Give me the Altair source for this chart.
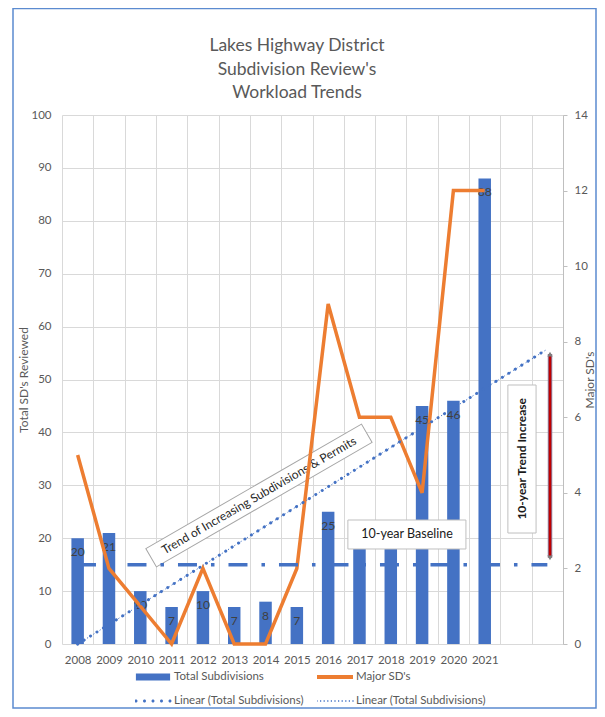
import altair as alt
import pandas as pd

# ---------------- data ----------------
years = list(range(2008, 2022))
total_subdivisions = [20, 21, 10, 7, 10, 7, 8, 7, 25, 22, 22, 45, 46, 88]
major_sds = [5, 2, 1, 0, 2, 0, 0, 2, 9, 6, 6, 4, 12, 12]

left_ticks = list(range(0, 101, 10))
right_ticks = list(range(0, 15, 2))
x_edges = [y - 0.5 for y in range(2008, 2025)]

title_lines = ["Lakes Highway District", "Subdivision Review's", "Workload Trends"]
legend_names = ["Total Subdivisions", "Major SD's",
                "Linear (Total Subdivisions)", "Linear (Total Subdivisions) "]
trend_extent = [2008, 2023]

# annotations (in data units)
baseline_value = [15]
baseline_span = [2008.17, 2023.0]
arrow_x = [2023.085]
arrow_span = [16.3, 54.8]
box_x = [2016.63, 2021.74]
box_x2 = [2020.40, 2022.64]
box_y = [23.44, 48.96]
box_y2 = [17.96, 20.98]
baseline_label = ["10-year Baseline"]
baseline_label_pos = [2018.52, 20.7]
increase_label = ["10-year Trend Increase"]
increase_label_pos = [2022.19, 35.0]
trend_label = ["Trend of Increasing Subdivisions & Permits"]
trend_label_pos = [2013.79, 28.07]

# ---------------- style ----------------
FONT = "Lato"
TXT = "#595959"
GRID = "#D9D9D9"
BLUE = "#4472C4"
ORANGE = "#ED7D31"
W, H = 501, 529

df = pd.DataFrame({"year": years, "total": total_subdivisions, "major": major_sds})

xscale = alt.Scale(domain=[2007.5, 2023.5], nice=False, zero=False, padding=0)
yl = alt.Scale(domain=[0, 100], nice=False)
yr = alt.Scale(domain=[0, 14], nice=False)

xaxis = alt.Axis(values=x_edges, grid=True, gridColor=GRID, ticks=False, domain=False,
                 labelExpr="datum.value <= 2020.5 ? format(datum.value + 0.5, 'd') : ''",
                 labelOffset=W / 32, labelFlush=False, labelOverlap=False, labelBound=False,
                 labelPadding=10, labelFontSize=11.5, labelColor=TXT, labelFont=FONT)
yaxis_left = alt.Axis(orient="left", values=left_ticks, grid=True, gridColor=GRID, domain=False,
                      ticks=False, labelColor=TXT, labelFont=FONT, labelFontSize=11.5,
                      labelPadding=11, title="Total SD's Reviewed", titleColor=TXT,
                      titleFont=FONT, titleFontSize=12, titleFontWeight="normal", titlePadding=0)
yaxis_right = alt.Axis(orient="right", values=right_ticks, grid=False, domain=True,
                       domainColor="#BFBFBF", ticks=True, tickColor="#BFBFBF", tickSize=4,
                       labelColor=TXT, labelFont=FONT, labelFontSize=11.5, labelPadding=7,
                       title="Major SD's", titleColor=TXT, titleFont=FONT, titleFontSize=12,
                       titleFontWeight="normal", titleAngle=270, titleBaseline="top",
                       titlePadding=-3)


def xq(field):
    # every layer carries the same x axis definition so that they merge into one axis
    return alt.X(field + ":Q", scale=xscale, axis=xaxis, title=None)


def yq(field):
    return alt.Y(field + ":Q", scale=yl, axis=None, title=None)


bars = alt.Chart(df).mark_bar(size=12.5, color=BLUE).encode(
    x=xq("year"),
    y=alt.Y("total:Q", scale=yl, axis=yaxis_left),
)
bar_labels = alt.Chart(df).mark_text(dy=14, fontSize=12, font=FONT, color="#404040").encode(
    x=xq("year"), y=yq("total"), text="total:Q"
)

rot_df = pd.DataFrame({"x": [trend_label_pos[0]], "y": [trend_label_pos[1]], "label": trend_label})
rot_box = alt.Chart(rot_df).mark_point(
    shape="M-1,-0.085L1,-0.085L1,0.085L-1,0.085Z", size=249 ** 2, angle=330,
    filled=True, fill="white", stroke="#A6A6A6", strokeWidth=1, opacity=1, fillOpacity=1
).encode(x=xq("x"), y=yq("y"))
rot_text = alt.Chart(rot_df).mark_text(angle=330, fontSize=12, font=FONT, color="#262626").encode(
    x=xq("x"), y=yq("y"), text="label:N"
)

line = alt.Chart(df).mark_line(color=ORANGE, strokeWidth=3.5).encode(
    x=xq("year"), y=alt.Y("major:Q", scale=yr, axis=yaxis_right)
)

trend1 = alt.Chart(df).transform_regression("year", "total", extent=trend_extent).mark_line(
    color=BLUE, strokeWidth=3, strokeDash=[0.1, 7.5], strokeCap="round"
).encode(x=xq("year"), y=yq("total"))
trend2 = alt.Chart(df).transform_regression("year", "total", extent=trend_extent).mark_line(
    color=BLUE, strokeWidth=1, strokeDash=[1.2, 2.5]
).encode(x=xq("year"), y=yq("total"))

base_df = pd.DataFrame({"x": [baseline_span[0]], "x2": [baseline_span[1]], "y": baseline_value})
baseline = alt.Chart(base_df).mark_rule(
    color=BLUE, strokeWidth=3.5, strokeDash=[19, 14, 3.5, 14], strokeDashOffset=6
).encode(x=xq("x"), x2="x2:Q", y=yq("y"))

box_df = pd.DataFrame({"x": box_x, "x2": box_x2, "y": box_y, "y2": box_y2})
boxes = alt.Chart(box_df).mark_rect(fill="white", stroke="#BFBFBF", strokeWidth=1).encode(
    x=xq("x"), x2="x2:Q", y=yq("y"), y2="y2:Q"
)
bl_df = pd.DataFrame({"x": [baseline_label_pos[0]], "y": [baseline_label_pos[1]], "label": baseline_label})
bl_text = alt.Chart(bl_df).mark_text(fontSize=12.5, font=FONT, color="#1a1a1a").encode(
    x=xq("x"), y=yq("y"), text="label:N"
)
inc_df = pd.DataFrame({"x": [increase_label_pos[0]], "y": [increase_label_pos[1]], "label": increase_label})
inc_text = alt.Chart(inc_df).mark_text(fontSize=12, font=FONT, fontWeight="bold", angle=270,
                                        color="#1a1a1a").encode(
    x=xq("x"), y=yq("y"), text="label:N"
)

arr_df = pd.DataFrame({"x": arrow_x, "y": [arrow_span[0]], "y2": [arrow_span[1]]})
arrow_back = alt.Chart(arr_df).mark_rule(color="#8E7F9E", strokeWidth=4.5).encode(
    x=xq("x"), y=yq("y"), y2="y2:Q"
)
arrow_front = alt.Chart(arr_df).mark_rule(color="#C00000", strokeWidth=2.5).encode(
    x=xq("x"), y=yq("y"), y2="y2:Q"
)
head_top = alt.Chart(pd.DataFrame({"x": arrow_x, "y": [arrow_span[1]]})).mark_point(
    shape="triangle-up", filled=True, size=30, color="#7F7F7F", opacity=1
).encode(x=xq("x"), y=yq("y"))
head_bottom = alt.Chart(pd.DataFrame({"x": arrow_x, "y": [arrow_span[0]]})).mark_point(
    shape="triangle-down", filled=True, size=30, color="#7F7F7F", opacity=1
).encode(x=xq("x"), y=yq("y"))


# ---------------- legend ----------------
def dots(n, r, x0=-0.944, step=0.472):
    parts = []
    for i in range(n):
        cx = x0 + i * step
        parts.append(f"M{cx - r:.3f},0a{r},{r} 0 1,0 {2 * r},0a{r},{r} 0 1,0 {-2 * r},0Z")
    return "".join(parts)


def squares(n, s, x0=-1.0, step=0.2):
    parts = []
    for i in range(n):
        cx = x0 + i * step
        parts.append(f"M{cx - s:.3f},{-s}H{cx + s:.3f}V{s}H{cx - s:.3f}Z")
    return "".join(parts)


legend_paths = [
    "M-0.95,-0.19H0.95V0.19H-0.95Z",
    "M-1,-0.11H1V0.11H-1Z",
    dots(5, 0.085),
    squares(11, 0.035),
]
legend_colors = [BLUE, ORANGE, BLUE, BLUE]
LEG = alt.Legend(orient="none", legendX=73, legendY=554, columns=2, direction="horizontal",
                 title=None, symbolSize=1296, symbolOpacity=1, symbolStrokeWidth=0,
                 symbolStrokeColor="transparent",
                 labelFont=FONT, labelFontSize=11.5, labelColor=TXT, labelOffset=3,
                 columnPadding=13, rowPadding=8, clipHeight=16)
leg_df = pd.DataFrame({"series": legend_names})
legend_layer = alt.Chart(leg_df).mark_point(filled=True, opacity=0, size=1296).encode(
    x=alt.value(0), y=alt.value(0),
    color=alt.Color("series:N", scale=alt.Scale(domain=legend_names, range=legend_colors), legend=LEG),
    shape=alt.Shape("series:N", scale=alt.Scale(domain=legend_names, range=legend_paths), legend=LEG),
)

frame = alt.Chart(pd.DataFrame({"a": [0]})).mark_rect(
    fill="transparent", stroke="#5B8BD0", strokeWidth=1.5
).encode(x=alt.value(13 - 62), x2=alt.value(596 - 62), y=alt.value(8.5 - 115), y2=alt.value(708 - 115))

title_df = pd.DataFrame({"t": ["\n".join(title_lines)]})
title = alt.Chart(title_df).mark_text(
    font=FONT, fontSize=17.5, color=TXT, lineBreak="\n", lineHeight=23.5,
    align="center", baseline="middle"
).encode(x=alt.value(297 - 62), y=alt.value(46 - 115), text="t:N")

chart = alt.layer(
    bars, bar_labels, rot_box, rot_text, line, trend1, trend2, baseline, boxes,
    bl_text, inc_text, arrow_back, arrow_front, head_top, head_bottom, legend_layer, frame, title
).resolve_scale(
    y="independent"
).properties(
    width=W, height=H,
    padding={"left": 54, "top": 107, "right": 34, "bottom": 65},
    autosize=alt.AutoSizeParams(type="none"),
).configure_view(strokeWidth=0)

chart.save("out.html", embed_options={"renderer": "svg", "actions": False})
